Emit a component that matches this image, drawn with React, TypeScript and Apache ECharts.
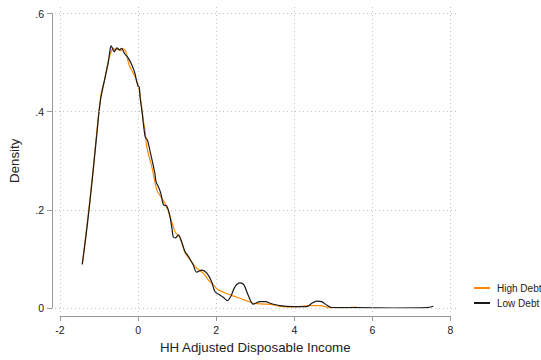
import React, { useEffect, useRef } from "react";
import * as echarts from "echarts";

const xTicks = [-2, 0, 2, 4, 6, 8];
const yTicks = [0, 0.2, 0.4, 0.6];

const highDebtX = [-1.43, -1.33, -1.25, -1.15, -1.05, -0.95, -0.85, -0.76, -0.69, -0.635, -0.58, -0.52, -0.45, -0.38, -0.33, -0.29, -0.23, -0.12, -0.06, 0.0, 0.05, 0.09, 0.14, 0.18, 0.22, 0.35, 0.48, 0.58, 0.69, 0.82, 0.95, 1.07, 1.2, 1.33, 1.5, 1.67, 1.8, 1.93, 2.05, 2.31, 2.53, 2.74, 2.95, 3.21, 3.38, 3.63, 3.97, 4.4, 4.66, 4.91, 5.25, 5.6];
const highDebtY = [0.089, 0.155, 0.21, 0.285, 0.365, 0.435, 0.468, 0.505, 0.522, 0.529, 0.525, 0.529, 0.524, 0.528, 0.525, 0.515, 0.495, 0.478, 0.468, 0.454, 0.434, 0.41, 0.38, 0.36, 0.329, 0.288, 0.24, 0.227, 0.213, 0.186, 0.155, 0.143, 0.113, 0.098, 0.081, 0.071, 0.057, 0.047, 0.037, 0.028, 0.022, 0.016, 0.0096, 0.008, 0.0075, 0.0035, 0.002, 0.0047, 0.0047, 0.0006, 0.0006, 0.002];

const lowDebtX = [-1.43, -1.33, -1.25, -1.15, -1.05, -1.0, -0.95, -0.85, -0.76, -0.72, -0.69, -0.61, -0.548, -0.48, -0.42, -0.353, -0.25, -0.16, -0.08, -0.036, 0.0, 0.03, 0.05, 0.1, 0.18, 0.24, 0.29, 0.375, 0.43, 0.46, 0.52, 0.58, 0.65, 0.73, 0.8, 0.86, 0.9, 0.96, 1.03, 1.12, 1.2, 1.29, 1.41, 1.5, 1.63, 1.76, 1.88, 1.97, 2.1, 2.18, 2.28, 2.37, 2.48, 2.61, 2.71, 2.82, 2.95, 3.12, 3.27, 3.38, 3.63, 3.97, 4.32, 4.45, 4.57, 4.7, 4.83, 4.96, 5.6, 6.54, 7.39, 7.56];
const lowDebtY = [0.089, 0.15, 0.205, 0.28, 0.36, 0.4, 0.43, 0.468, 0.502, 0.525, 0.534, 0.522, 0.53, 0.526, 0.529, 0.519, 0.509, 0.495, 0.478, 0.461, 0.452, 0.45, 0.43, 0.4, 0.349, 0.342, 0.325, 0.295, 0.274, 0.257, 0.247, 0.234, 0.21, 0.208, 0.193, 0.166, 0.145, 0.143, 0.149, 0.134, 0.115, 0.105, 0.088, 0.073, 0.077, 0.071, 0.054, 0.033, 0.026, 0.022, 0.015, 0.023, 0.043, 0.051, 0.047, 0.026, 0.008, 0.013, 0.013, 0.0096, 0.0047, 0.0027, 0.0027, 0.0096, 0.014, 0.013, 0.006, 0.001, 0.0006, 0.0, 0.0006, 0.0035];

const seriesNames = ["High Debt", "Low Debt"];
const FONT = "Liberation Sans";

export default function App() {
  const ref = useRef<HTMLDivElement>(null);
  useEffect(() => {
    if (!ref.current) return;
    const chart = echarts.init(ref.current, undefined, { renderer: "svg" });
    const grid = "#c4c4c4";
    const axisCol = "#999999";
    chart.setOption({
      animation: false,
      backgroundColor: "#ffffff",
      textStyle: { fontFamily: FONT },
      grid: [
        { left: 55, right: 84, top: 5, bottom: 48 },
        { left: 60, right: 90.5, top: 13.5, bottom: 52 },
      ],
      xAxis: [
        { type: "value", gridIndex: 0, min: -2.128, max: 8.166, show: false },
        {
          type: "value",
          gridIndex: 1,
          min: -2,
          max: 8,
          interval: 2,
          offset: 8,
          axisLine: { show: true, onZero: false, lineStyle: { color: axisCol, width: 1 } },
          axisTick: { show: true, length: 5, lineStyle: { color: axisCol } },
          axisLabel: { color: "#222", fontSize: 10.5, margin: 8, fontFamily: FONT },
          splitLine: { show: false },
          name: "HH Adjusted Disposable Income",
          nameLocation: "middle",
          nameGap: 25,
          nameTextStyle: { color: "#222", fontSize: 13.3, fontFamily: FONT },
        },
      ],
      yAxis: [
        { type: "value", gridIndex: 0, min: -0.00815, max: 0.6173, show: false },
        {
          type: "value",
          gridIndex: 1,
          min: 0,
          max: 0.6,
          interval: 0.2,
          offset: 8,
          axisLine: { show: true, onZero: false, lineStyle: { color: axisCol, width: 1 } },
          axisTick: { show: true, length: 5, lineStyle: { color: axisCol } },
          axisLabel: {
            color: "#222",
            fontSize: 10.5,
            margin: 8,
            fontFamily: FONT,
            formatter: (v: number) => (v === 0 ? "0" : v.toFixed(1).replace(/^0/, "")),
          },
          splitLine: { show: false },
          name: "Density",
          nameLocation: "middle",
          nameGap: 31,
          nameTextStyle: { color: "#222", fontSize: 13.3, fontFamily: FONT },
        },
      ],
      legend: {
        orient: "vertical",
        left: 469,
        top: 278,
        itemWidth: 16,
        itemHeight: 2,
        itemGap: 5,
        icon: "rect",
        data: seriesNames,
        textStyle: { color: "#222", fontSize: 10, fontFamily: FONT, padding: [0, 0, 0, 2] },
      },
      series: [
        {
          type: "line",
          name: "_grid",
          xAxisIndex: 0,
          yAxisIndex: 0,
          data: [[0, 0]],
          symbol: "none",
          silent: true,
          lineStyle: { opacity: 0 },
          markLine: {
            silent: true,
            symbol: ["none", "none"],
            label: { show: false },
            lineStyle: { color: grid, type: [1, 3], width: 1 },
            data: [
              ...xTicks.map((v) => ({ xAxis: v })),
              ...yTicks.map((v) => ({ yAxis: v })),
            ],
          },
        },
        {
          type: "line",
          name: seriesNames[0],
          xAxisIndex: 1,
          yAxisIndex: 1,
          data: highDebtX.map((x, i) => [x, highDebtY[i]]),
          symbol: "none",
          smooth: 0.3,
          color: "#ff8a00",
          lineStyle: { color: "#ff8a00", width: 1.2 },
        },
        {
          type: "line",
          name: seriesNames[1],
          xAxisIndex: 1,
          yAxisIndex: 1,
          data: lowDebtX.map((x, i) => [x, lowDebtY[i]]),
          symbol: "none",
          smooth: 0.3,
          color: "#1a1a1a",
          lineStyle: { color: "#1a1a1a", width: 1.2 },
        },
      ],
    });
    return () => chart.dispose();
  }, []);
  return (
    <div
      ref={ref}
      style={{ position: "fixed", left: 0, top: 0, width: 541, height: 360 }}
    />
  );
}
